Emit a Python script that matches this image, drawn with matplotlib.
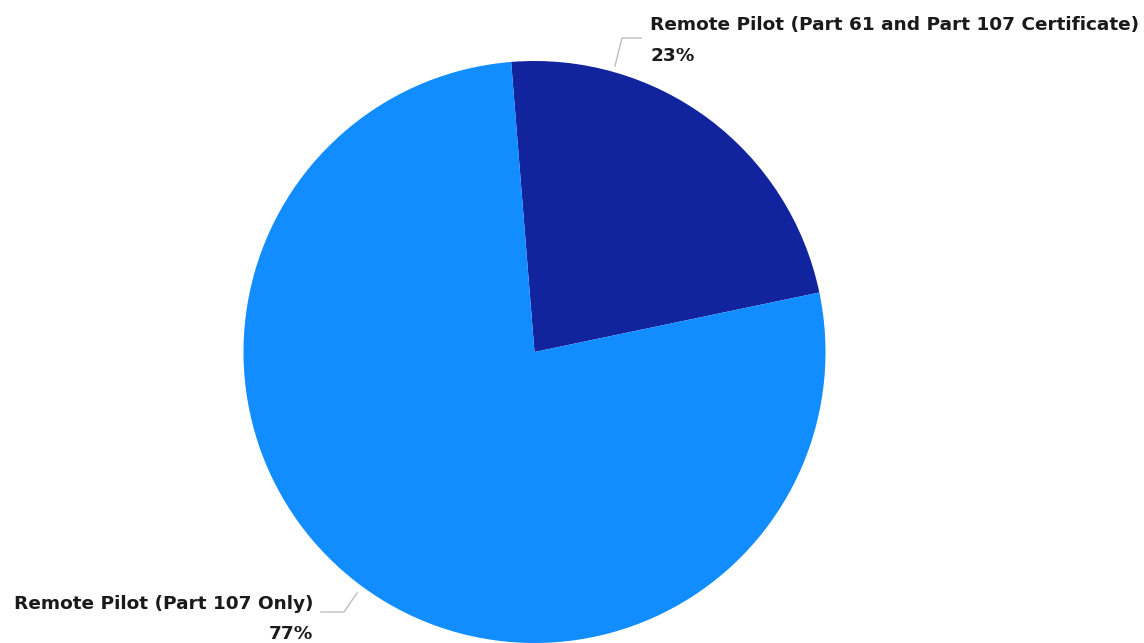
import matplotlib
matplotlib.use("Agg")
import matplotlib.pyplot as plt

categories = ["Remote Pilot (Part 61 and Part 107 Certificate)", "Remote Pilot (Part 107 Only)"]
shares = [23, 77]
colors = ["#12239E", "#118DFF"]

W, H = 1144, 643
fig = plt.figure(figsize=(W / 100, H / 100), dpi=100)
ax = fig.add_axes([0, 0, 1, 1])

cx, cy, r = 534.5, 291, 291
ax.pie(shares, colors=colors, startangle=94.6, counterclock=False,
       center=(cx, cy), radius=r, frame=True,
       wedgeprops=dict(linewidth=0))
ax.set_xlim(0, W)
ax.set_ylim(0, H)
ax.axis("off")

font = dict(family="DejaVu Sans", fontweight="bold", fontsize=13.3, color="#1a1a1a")
line_col = "#BDBDBD"

# top label
ax.plot([615, 622, 641], [H - 66, H - 38, H - 38], color=line_col, lw=1)
ax.text(650, H - 25, categories[0], ha="left", va="center", **font)
ax.text(650, H - 56, f"{shares[0]}%", ha="left", va="center", **font)

# bottom label
ax.plot([357, 344, 321], [H - 593, H - 612, H - 612], color=line_col, lw=1)
ax.text(313, H - 604, categories[1], ha="right", va="center", **font)
ax.text(313, H - 634, f"{shares[1]}%", ha="right", va="center", **font)

fig.savefig("out.png", dpi=100)
